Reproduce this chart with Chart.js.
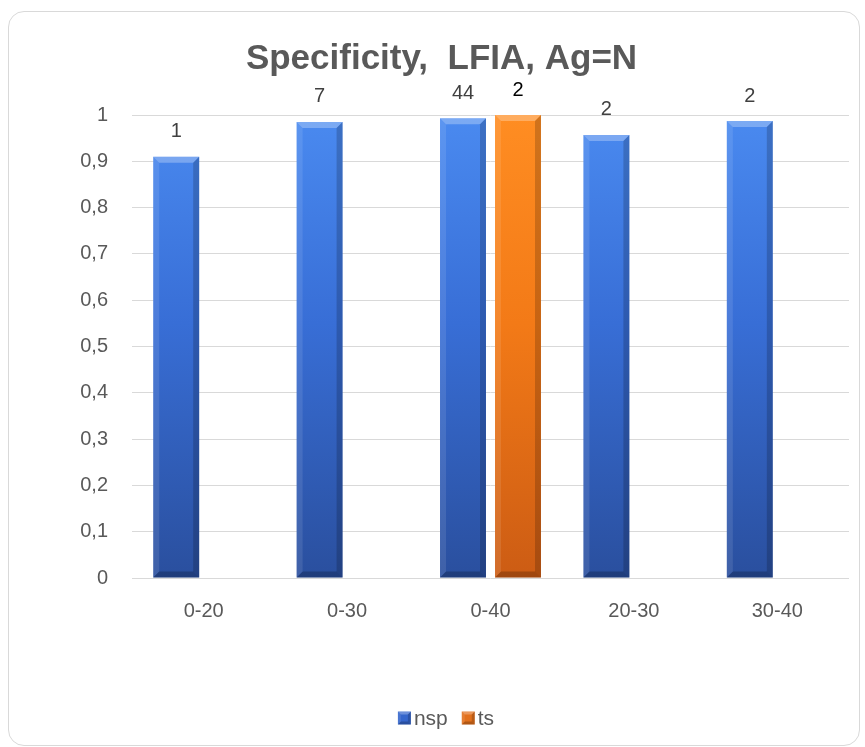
<!DOCTYPE html>
<html>
<head>
<meta charset="utf-8">
<script src="https://cdn.jsdelivr.net/npm/chart.js@4/dist/chart.umd.min.js"></script>
<style>
  html, body { margin: 0; padding: 0; background: #fff; width: 865px; height: 747px; overflow: hidden; }
  #frame { position: absolute; left: 8px; top: 11px; width: 852px; height: 735px;
           border: 1px solid #d9d9d9; border-radius: 16px; box-sizing: border-box; }
  #wrap { position: absolute; left: 0; top: 0; width: 865px; height: 747px; }
</style>
</head>
<body>
<div id="frame"></div>
<div id="wrap"><canvas id="c" width="865" height="747"></canvas></div>
<script>
// Age groups on the category axis
const categories = ['0-20', '0-30', '0-40', '20-30', '30-40'];
// Specificity per series
const nspValues = [0.91, 0.985, 0.993, 0.957, 0.987];
const tsValues  = [null, null, 1.0, null, null];
// Counts printed above the bars
const nspCounts = ['1', '7', '44', '2', '2'];
const tsCounts  = [null, null, '2', null, null];
// Value-axis labels (decimal comma)
const yTickLabels = ['0', '0,1', '0,2', '0,3', '0,4', '0,5', '0,6', '0,7', '0,8', '0,9', '1'];

const TEXT = '#595959';
const BODY_FONT = "'Liberation Sans', Arial, sans-serif";
const TITLE_FONT = "'Liberation Sans', Arial, sans-serif";

const seriesColors = [
  { top: '#4a8af0', mid: '#386ed6', bottom: '#2a4f9e', key: '#3566cc' },
  { top: '#ff8d22', mid: '#f37a17', bottom: '#cc5c14', key: '#e2701c' }
];

// vertical gradient over the plot area: lighter at the top, deeper at the base
function barFill(c) {
  return (ctx) => {
    const chart = ctx.chart;
    const area = chart.chartArea;
    if (!area) return c.mid;
    const g = chart.ctx.createLinearGradient(0, area.top, 0, area.bottom);
    g.addColorStop(0, c.top);
    g.addColorStop(0.45, c.mid);
    g.addColorStop(1, c.bottom);
    return g;
  };
}

function drawBevel(ctx, l, t, r, btm, b) {
  ctx.save();
  ctx.fillStyle = 'rgba(255,255,255,0.28)';
  ctx.beginPath();
  ctx.moveTo(l, t); ctx.lineTo(r, t); ctx.lineTo(r - b, t + b); ctx.lineTo(l + b, t + b);
  ctx.closePath(); ctx.fill();
  ctx.fillStyle = 'rgba(255,255,255,0.10)';
  ctx.beginPath();
  ctx.moveTo(l, t); ctx.lineTo(l + b, t + b); ctx.lineTo(l + b, btm - b); ctx.lineTo(l, btm);
  ctx.closePath(); ctx.fill();
  ctx.fillStyle = 'rgba(0,0,0,0.18)';
  ctx.beginPath();
  ctx.moveTo(r, t); ctx.lineTo(r - b, t + b); ctx.lineTo(r - b, btm - b); ctx.lineTo(r, btm);
  ctx.closePath(); ctx.fill();
  ctx.fillStyle = 'rgba(0,0,0,0.22)';
  ctx.beginPath();
  ctx.moveTo(l, btm); ctx.lineTo(l + b, btm - b); ctx.lineTo(r - b, btm - b); ctx.lineTo(r, btm);
  ctx.closePath(); ctx.fill();
  ctx.restore();
}

// bevelled edges on each bar
const bevel = {
  id: 'bevel',
  afterDatasetsDraw(chart) {
    chart.data.datasets.forEach((ds, i) => {
      chart.getDatasetMeta(i).data.forEach((bar, j) => {
        if (ds.data[j] == null) return;
        const { x, y, base, width } = bar.getProps(['x', 'y', 'base', 'width'], true);
        drawBevel(chart.ctx, x - width / 2, y, x + width / 2, base, 6);
      });
    });
  }
};

// counts written above the bars
const countLabels = {
  id: 'countLabels',
  afterDatasetsDraw(chart) {
    const ctx = chart.ctx;
    const sets = [{ labels: nspCounts, color: '#404040' }, { labels: tsCounts, color: '#000000' }];
    ctx.save();
    ctx.font = '20px ' + BODY_FONT;
    ctx.textAlign = 'center';
    ctx.textBaseline = 'middle';
    sets.forEach((s, i) => {
      chart.getDatasetMeta(i).data.forEach((bar, j) => {
        if (s.labels[j] == null) return;
        const { x, y } = bar.getProps(['x', 'y'], true);
        ctx.fillStyle = s.color;
        ctx.fillText(s.labels[j], x, y - 25);
      });
    });
    ctx.restore();
  }
};

// series key under the axis
const seriesKey = {
  id: 'seriesKey',
  afterDraw(chart) {
    const ctx = chart.ctx;
    const box = 13, gap = 3, spacing = 14, cy = 718;
    ctx.save();
    ctx.font = '21px ' + BODY_FONT;
    ctx.textBaseline = 'middle';
    const items = chart.data.datasets.map((ds, i) => ({ text: ds.label, color: seriesColors[i].key, w: ctx.measureText(ds.label).width }));
    const total = items.reduce((s, it) => s + box + gap + it.w, 0) + spacing * (items.length - 1);
    let x = 446 - total / 2;
    items.forEach((it) => {
      ctx.fillStyle = it.color;
      ctx.fillRect(x, cy - box / 2, box, box);
      drawBevel(ctx, x, cy - box / 2, x + box, cy + box / 2, 3);
      x += box + gap;
      ctx.fillStyle = TEXT;
      ctx.textAlign = 'left';
      ctx.fillText(it.text, x, cy + 1);
      x += it.w + spacing;
    });
    ctx.restore();
  }
};

new Chart(document.getElementById('c'), {
  type: 'bar',
  data: {
    labels: categories,
    datasets: [
      { label: 'nsp', data: nspValues, backgroundColor: barFill(seriesColors[0]), borderWidth: 0 },
      { label: 'ts',  data: tsValues,  backgroundColor: barFill(seriesColors[1]), borderWidth: 0 }
    ]
  },
  options: {
    responsive: false,
    animation: false,
    devicePixelRatio: 1,
    categoryPercentage: 0.767,
    barPercentage: 0.836,
    layout: { padding: { left: 34, right: 16, top: 0, bottom: 40 } },
    plugins: {
      title: {
        display: true,
        text: 'Specificity,  LFIA, Ag=N',
        color: TEXT,
        font: { family: TITLE_FONT, size: 35, weight: 'bold' },
        padding: { top: 38, bottom: 35 }
      },
      legend: { display: false },
      tooltip: { enabled: false }
    },
    scales: {
      x: {
        grid: { display: false, drawTicks: false },
        border: { display: false },
        ticks: { color: TEXT, font: { family: BODY_FONT, size: 20 }, padding: 21 },
        afterFit: (s) => { s.height = 129; }
      },
      y: {
        min: 0,
        max: 1,
        grid: { color: '#d9d9d9', lineWidth: 1, drawTicks: false },
        border: { display: false },
        ticks: {
          stepSize: 0.1,
          color: TEXT,
          font: { family: BODY_FONT, size: 20 },
          padding: 24,
          callback: (v, i) => yTickLabels[i]
        },
        afterFit: (s) => { s.width = 98; }
      }
    }
  },
  plugins: [bevel, countLabels, seriesKey]
});
</script>
</body>
</html>
